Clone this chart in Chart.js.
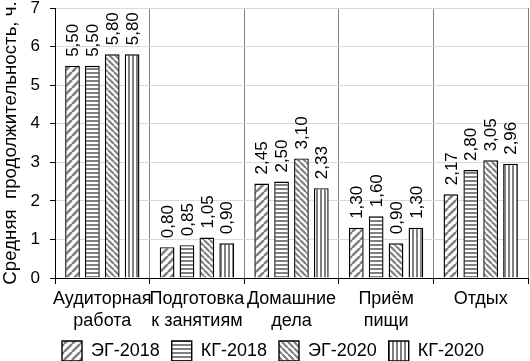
<!DOCTYPE html>
<html>
<head>
<meta charset="utf-8">
<script src="https://cdn.jsdelivr.net/npm/chart.js@4/dist/chart.umd.min.js"></script>
<style>
  html, body { margin: 0; padding: 0; background: #fff; }
  #wrap { width: 530px; height: 361px; }
</style>
</head>
<body>
<div id="wrap"><canvas id="timeChart"></canvas></div>
<script>
// Data
const categories = [["Аудиторная", "работа"], ["Подготовка", "к занятиям"], ["Домашние", "дела"], ["Приём", "пищи"], ["Отдых"]]
const eg2018 = [5.5, 0.8, 2.45, 1.3, 2.17]
const kg2018 = [5.5, 0.85, 2.5, 1.6, 2.8]
const eg2020 = [5.8, 1.05, 3.1, 0.9, 3.05]
const kg2020 = [5.8, 0.9, 2.33, 1.3, 2.96]
const seriesNames = ["ЭГ-2018", "КГ-2018", "ЭГ-2020", "КГ-2020"]

const FONT = "'Liberation Sans', Arial, sans-serif"
const GRAY = "#808080"

// Hatch patterns for the bars
function makePattern(kind) {
  const c = document.createElement("canvas")
  const size = kind === "up" ? 8 : kind === "down" ? 6 : 4
  c.width = size
  c.height = size
  const g = c.getContext("2d")
  g.fillStyle = "#fff"
  g.fillRect(0, 0, size, size)
  g.strokeStyle = GRAY
  g.fillStyle = GRAY
  if (kind === "h") {
    g.fillRect(0, 0, size, 2)
  } else if (kind === "v") {
    g.fillRect(0, 0, 2, size)
  } else {
    g.lineWidth = kind === "up" ? 2.6 : 2.2
    g.beginPath()
    for (let k = -1; k <= 1; k++) {
      if (kind === "up") {
        g.moveTo(k * size, size)
        g.lineTo(k * size + size, 0)
      } else {
        g.moveTo(k * size, 0)
        g.lineTo(k * size + size, size)
      }
    }
    g.stroke()
  }
  return g.createPattern(c, "repeat")
}

const patterns = [makePattern("up"), makePattern("h"), makePattern("down"), makePattern("v")]
const values = [eg2018, kg2018, eg2020, kg2020]

// Rotated value labels above the bars
const valueLabels = {
  id: "valueLabels",
  afterDatasetsDraw(chart) {
    const ctx = chart.ctx
    ctx.save()
    ctx.font = "17px " + FONT
    ctx.fillStyle = "#000"
    ctx.textAlign = "left"
    ctx.textBaseline = "middle"
    chart.data.datasets.forEach((ds, i) => {
      chart.getDatasetMeta(i).data.forEach((bar, j) => {
        const txt = ds.data[j].toFixed(2).replace(".", ",")
        ctx.save()
        ctx.translate(bar.x + 1, bar.y - 9)
        ctx.rotate(-Math.PI / 2)
        ctx.fillText(txt, 0, 0)
        ctx.restore()
      })
    })
    ctx.restore()
  },
}

const ctx = document.getElementById("timeChart").getContext("2d")
new Chart(ctx, {
  type: "bar",
  data: {
    labels: categories,
    datasets: values.map((v, i) => ({
      label: seriesNames[i],
      data: v,
      backgroundColor: patterns[i],
      borderColor: "#000",
      borderWidth: 1.4,
      categoryPercentage: 0.84,
      barPercentage: 0.74,
    })),
  },
  options: {
    responsive: true,
    maintainAspectRatio: false,
    animation: false,
    layout: { padding: { top: 0, right: 2, left: 0, bottom: -10 } },
    plugins: {
      tooltip: { enabled: false },
      legend: {
        position: "bottom",
        align: "start",
        fullSize: false,
        labels: {
          color: "#000",
          font: { family: FONT, size: 18 },
          boxWidth: 20,
          boxHeight: 20,
          padding: 7,
          useBorderRadius: false,
          // a little wider gap between items without extra vertical space
          generateLabels: (chart) =>
            Chart.defaults.plugins.legend.labels.generateLabels(chart).map((it, i, all) => {
              if (i < all.length - 1) it.text = it.text + " "
              return it
            }),
        },
      },
    },
    scales: {
      x: {
        offset: true,
        afterFit: (s) => { s.height = 56 },
        grid: { color: GRAY, offset: true, tickLength: 6, tickColor: "#000" },
        border: { color: "#000" },
        ticks: { color: "#000", font: { family: FONT, size: 18, lineHeight: 1.17 }, maxRotation: 0, autoSkip: false, padding: 5 },
      },
      y: {
        min: 0,
        max: 7,
        afterFit: (s) => {
          s.width = 55
          s.paddingTop = 8
          s.paddingBottom = 0
        },
        ticks: { stepSize: 1, color: "#000", font: { family: FONT, size: 17 }, padding: 10 },
        grid: { color: "#d9d9d9", tickLength: 5, tickColor: "#000" },
        border: { color: "#000" },
        title: {
          display: true,
          text: "Средняя  продолжительность, ч.",
          color: "#000",
          font: { family: FONT, size: 18.7 },
          padding: { top: 0, bottom: 0 },
        },
      },
    },
  },
  plugins: [valueLabels],
})
</script>
</body>
</html>
